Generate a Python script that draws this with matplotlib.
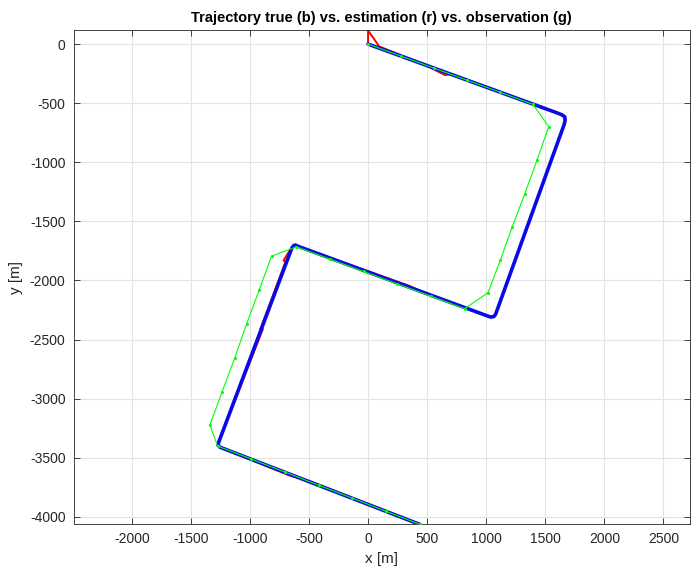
import matplotlib
matplotlib.use("Agg")
import matplotlib.pyplot as plt
import numpy as np

# true trajectory (blue)
true_x = [0, 1600, 1640, 1665, 1668, 1660, 1080, 1065, 1040, 1010,
          -595, -615, -630, -645, -1265, -1270, -1255, -1230, 440]
true_y = [0, -582, -598, -615, -645, -680, -2285, -2305, -2310, -2300,
          -1710, -1700, -1705, -1725, -3370, -3395, -3410, -3420, -4065]

# estimation (red)
est_x = [0, 0, 95, 480, 650, 700, 1600, 1640, 1665, 1668, 1660, 1080, 1065,
         1040, 1010, 480, 350, -595, -615, -630, -660, -715, -700, -900,
         -915, -890, -1265, -1270, -1255, -1230, -660, -490, 440]
est_y = [0, 115, -20, -175, -262, -255, -582, -598, -615, -645, -680, -2285,
         -2305, -2310, -2300, -2108, -2046, -1710, -1700, -1705, -1740,
         -1830, -1845, -2380, -2420, -2410, -3370, -3395, -3410, -3420,
         -3652, -3700, -4065]

# observation (green)
obs_x = [0, 280, 560, 840, 1120, 1396, 1529, 1430, 1326, 1221, 1120, 1015,
         817, 532, 248, -37, -321, -606, -817, -922, -1029, -1128, -1235,
         -1339, -1274, -989, -704, -419, -133, 152, 437]
obs_y = [0, -102, -204, -306, -408, -510, -699, -981, -1269, -1545, -1827,
         -2104, -2238, -2133, -2029, -1924, -1820, -1715, -1794, -2081,
         -2369, -2654, -2940, -3223, -3401, -3511, -3621, -3732, -3842,
         -3953, -4063]

x_ticks = np.arange(-2000, 2501, 500)
y_ticks = np.arange(-4000, 1, 500)

plt.rcParams["font.family"] = ["Liberation Sans", "DejaVu Sans"]
plt.rcParams["axes.unicode_minus"] = False

fig = plt.figure(figsize=(6.91, 5.69), dpi=100)
ax = fig.add_axes([0.107, 0.079, 0.891, 0.868])

ax.plot(est_x, est_y, color="#ff0000", linewidth=1.4, zorder=2)
ax.plot(true_x, true_y, color="#0a0ae6", linewidth=2.6, solid_joinstyle="round",
        solid_capstyle="round", zorder=3)
ax.plot(obs_x, obs_y, color="#00ff00", linewidth=0.8, marker=".",
        markersize=2.5, zorder=5)

ax.set_xlim(-2490, 2722)
ax.set_ylim(-4061, 118)
ax.set_xticks(x_ticks)
ax.set_yticks(y_ticks)
ax.grid(True, color="#e3e3e3", linewidth=0.8)
ax.set_axisbelow(True)
ax.tick_params(direction="in", top=True, right=True, length=4, width=0.6,
               labelsize=10, colors="#262626", labelcolor="#262626", pad=6)
for s in ax.spines.values():
    s.set_color("#262626")
    s.set_linewidth(0.6)

ax.set_xlabel("x [m]", fontsize=11, color="#262626", labelpad=4)
ax.set_ylabel("y [m]", fontsize=11, color="#262626", labelpad=5)
ax.set_title("Trajectory true (b) vs. estimation (r) vs. observation (g)",
             fontsize=10.5, fontweight="bold", pad=6)

fig.savefig("out.png", dpi=100)
